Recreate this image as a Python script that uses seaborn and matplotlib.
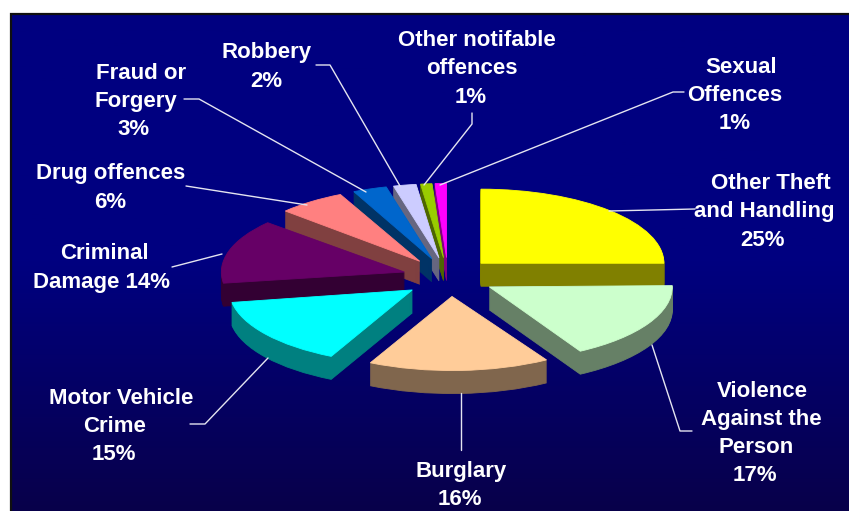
import numpy as np
import matplotlib
matplotlib.use('Agg')
import matplotlib.pyplot as plt
from matplotlib.colors import LinearSegmentedColormap
import seaborn as sns

sns.set_theme(style="white")
plt.rcParams['font.family'] = ['Liberation Sans', 'DejaVu Sans']

# Crime categories, clockwise from 12 o'clock
shares = [25, 17, 16, 15, 14, 6, 3, 2, 1, 1]
top_colors = ['#FFFF00', '#CCFFCC', '#FFCC99', '#00FFFF', '#660066',
              '#FF8080', '#0066CC', '#CCCCFF', '#99CC00', '#FF00FF']

# label lines, each set on its own because the original centres them unevenly
label_lines = ['Other Theft', 'and Handling', '25%',
               'Violence', 'Against the', 'Person', '17%',
               'Burglary', '16%',
               'Motor Vehicle', 'Crime', '15%',
               'Criminal', 'Damage 14%',
               'Drug offences', '6%',
               'Fraud or', 'Forgery', '3%',
               'Robbery', '2%',
               'Other notifable', 'offences', '1%',
               'Sexual', 'Offences', '1%']
line_x = [771, 764, 763,
          762, 761, 756, 755,
          461, 460,
          121, 115, 114,
          104, 102,
          111, 110,
          141, 136, 134,
          267, 266,
          477, 472, 471,
          741, 735, 735]
line_y = [189, 217, 246,
          397, 425, 453, 481,
          477, 505,
          404, 432, 460,
          259, 288,
          179, 208,
          79, 107, 135,
          58, 87,
          46, 74, 103,
          73, 101, 129]

W, H = 849, 511
squash = 0.405   # how flat the tilted pie looks
depth = 23       # thickness in pixels
cx, cy = 448, 277
radius = 183
pull = 48        # matplotlib adds explode straight to the centre, so this is in axis units

# small per-slice corrections, the original has real perspective and an ellipse has not
slice_turn = [0, 1, 2.3, 2.5, 1.5, 0.5, 0, 0, 0, 0]
slice_dx = [-1, 0, 4, 4, 2, 0, 0, 0, 0, 0]
slice_dy = [0, 0, 0, 2, 1, 0, 0, 0, 0, 0]

leaders = [
    [(609, 211), (695, 209)],
    [(652, 345), (680, 431), (692, 431)],
    [(461, 393), (461, 450)],
    [(268, 358), (205, 424), (190, 424)],
    [(222, 254), (172, 267)],
    [(307, 205), (186, 186)],
    [(366, 192), (199, 99), (184, 99)],
    [(400, 186), (330, 65), (316, 65)],
    [(424, 185), (472, 124), (472, 113)],
    [(440, 185), (673, 92), (684, 92)],
]

fig = plt.figure(figsize=(W / 100, H / 100), dpi=100, facecolor='white')

# background and frame, in pixel coordinates
bg = fig.add_axes([0, 0, 1, 1])
bg.set_xlim(0, W)
bg.set_ylim(H, 0)
bg.axis('off')
cmap = LinearSegmentedColormap.from_list('bg', ['#000080', '#000080', '#08004A'])
bg.imshow(np.linspace(0, 1, 256).reshape(-1, 1), cmap=cmap, aspect='auto',
          extent=(10, W, H, 13), zorder=0)
bg.set_xlim(0, W)
bg.set_ylim(H, 0)
bg.plot([11, 11, W], [H, 14, 14], color='#101010', lw=1.6, zorder=1, solid_joinstyle='miter')

# pie axes: y is stretched so a circle comes out as a flat ellipse
pie_ax = fig.add_axes([0, 0, 1, 1], facecolor='none')
side_colors = [tuple(c / 2 for c in col) for col in sns.color_palette(top_colors)]


def draw_layer(offset, colors):
    y = (H - cy - offset) / squash
    wedges, _ = pie_ax.pie(shares, explode=[pull] * len(shares), colors=colors, startangle=90,
                           counterclock=False, radius=radius, center=(cx, y))
    for i, (w, c) in enumerate(zip(wedges, colors)):
        w.set_edgecolor(c)
        w.set_linewidth(0.6)
        w.set_theta1(w.theta1 + slice_turn[i])
        w.set_theta2(w.theta2 + slice_turn[i])
        w.set_center((w.center[0] + slice_dx[i], w.center[1] - slice_dy[i] / squash))


for d in range(depth, 0, -1):
    draw_layer(d, side_colors)
draw_layer(0, top_colors)
pie_ax.set_aspect('auto')
pie_ax.set_xlim(0, W)
pie_ax.set_ylim(0, H / squash)
pie_ax.axis('off')

# text and leader lines on top
over = fig.add_axes([0, 0, 1, 1], facecolor='none')
over.set_xlim(0, W)
over.set_ylim(H, 0)
over.axis('off')
for pts in leaders:
    xs, ys = zip(*pts)
    over.plot(xs, ys, color='#E4E4F0', lw=1.0)
for txt, x, y in zip(label_lines, line_x, line_y):
    over.text(x, y, txt, color='white', fontsize=16, fontweight='bold', ha='center', va='baseline')

fig.savefig('out.png', dpi=100, facecolor='white')
